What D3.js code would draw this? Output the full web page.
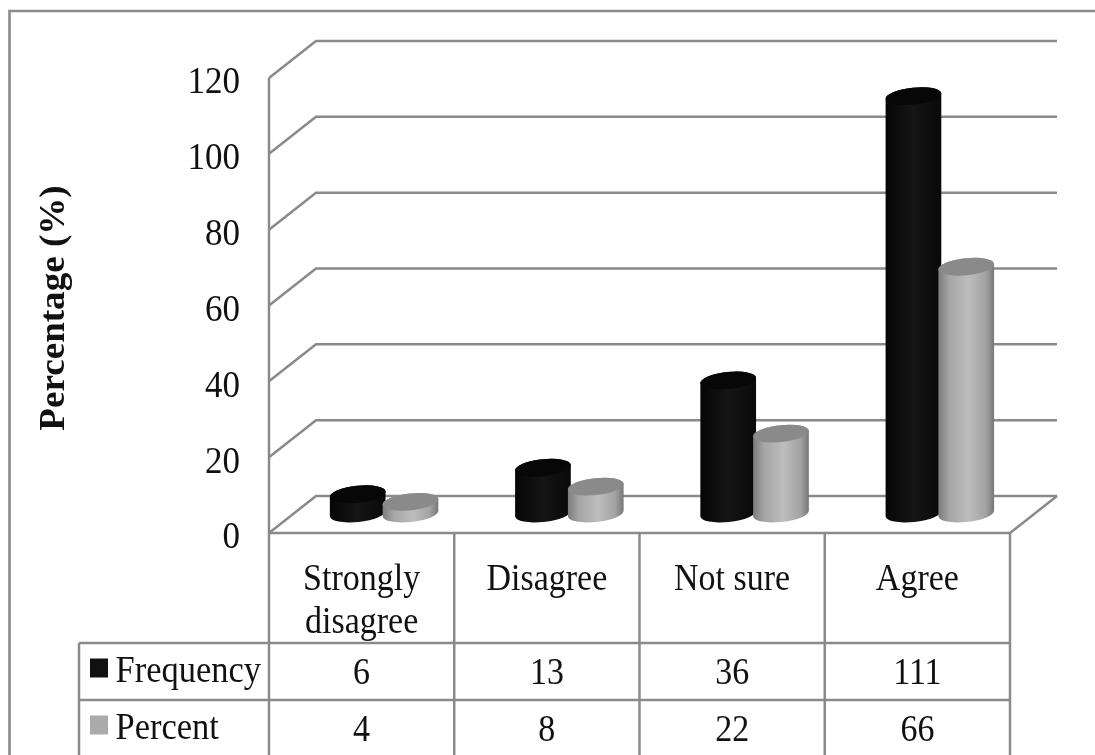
<!DOCTYPE html>
<html>
<head>
<meta charset="utf-8">
<script src="https://cdn.jsdelivr.net/npm/d3@7"></script>
<style>
  html, body { margin: 0; padding: 0; background: #fff; overflow: hidden; }
  svg { display: block; filter: blur(0.6px); }
  text { font-family: "Liberation Serif", serif; fill: #111; }
</style>
</head>
<body>
<div id="chart"></div>
<script>
const categories = [['Strongly', 'disagree'], ['Disagree'], ['Not sure'], ['Agree']];
const frequency = [6, 13, 36, 111];
const percent = [4, 8, 22, 66];
const seriesNames = ['Frequency', 'Percent'];
const yTicks = [0, 20, 40, 60, 80, 100, 120];

const width = 1095;
const height = 755;
const lineColor = '#8a8a8a';

// wall/floor offset of the 3d box
const depthX = 47;
const depthY = -37;

// the picture's text is a bit taller than the font
const textStretch = 1.1;

const svg = d3.select('#chart')
  .append('svg')
  .attr('width', width)
  .attr('height', height);

const x = d3.scaleBand()
  .domain(d3.range(categories.length))
  .range([269, 1010]);

const y = d3.scaleLinear()
  .domain([0, 120])
  .range([533, 78]);

// bars stand in the middle of the floor
const yBar = d3.scaleLinear()
  .domain([0, 120])
  .range([517, 62]);

const xSeries = d3.scaleBand()
  .domain(d3.range(2))
  .range([0, 105.6]);

const defs = svg.append('defs');

function addGradient(id, stops) {
  const g = defs.append('linearGradient').attr('id', id);
  stops.forEach(s => g.append('stop').attr('offset', s[0]).attr('stop-color', s[1]));
}
addGradient('darkBody', [[0, '#060606'], [0.5, '#151515'], [1, '#090909']]);
addGradient('greyBody', [[0, '#7c7c7c'], [0.2, '#a6a6a6'], [0.55, '#bdbdbd'], [0.85, '#a2a2a2'], [1, '#777']]);

// outer frame, runs off the picture on the right and at the bottom
svg.append('path')
  .attr('d', d3.line()([[9.5, height + 5], [9.5, 11], [width + 5, 11]]))
  .attr('fill', 'none')
  .attr('stroke', lineColor)
  .attr('stroke-width', 2.6);

// walls and floor
const wall = svg.append('g')
  .attr('fill', 'none')
  .attr('stroke', lineColor)
  .attr('stroke-width', 2.5);

wall.selectAll('path.grid')
  .data(yTicks)
  .join('path')
  .attr('class', 'grid')
  .attr('d', d => d3.line()([
    [x.range()[0], y(d)],
    [x.range()[0] + depthX, y(d) + depthY],
    [x.range()[1] + depthX, y(d) + depthY]
  ]));

wall.append('path')
  .attr('d', d3.line()([
    [x.range()[0], y(120)],
    [x.range()[0], y(0)],
    [x.range()[1], y(0)],
    [x.range()[1] + depthX, y(0) + depthY]
  ]));

// y axis labels
const yAxis = svg.append('g')
  .attr('transform', 'translate(240,0)')
  .call(d3.axisLeft(y).tickValues(yTicks).tickSize(0).tickPadding(0));
yAxis.select('.domain').remove();
yAxis.selectAll('text')
  .attr('dy', '0.4em')
  .attr('transform', 'scale(1,1.06)')
  .style('font-size', '35px')
  .style('font-family', '"Liberation Serif", serif')
  .attr('fill', '#111');

svg.append('text')
  .attr('transform', 'translate(64,308) rotate(-90) scale(1.03,1)')
  .attr('text-anchor', 'middle')
  .style('font-size', '36px')
  .style('font-weight', 'bold')
  .text('Percentage (%)');

// cylinders
const rx = 28;
const ry = 8.5;
const tilt = -6;
const dx = rx * Math.cos(tilt * Math.PI / 180);
const dy = rx * Math.sin(tilt * Math.PI / 180);
const baseOffset = 3.5;

function cylinderBody(cx, topY, baseY) {
  return `M${cx - dx},${topY - dy}` +
    `L${cx - dx},${baseY - dy}` +
    `A${rx},${ry} ${tilt} 0 0 ${cx + dx},${baseY + dy}` +
    `L${cx + dx},${topY + dy}` +
    `A${rx},${ry} ${tilt} 0 0 ${cx - dx},${topY - dy}Z`;
}

const seriesStyle = [
  { values: frequency, body: 'url(#darkBody)', top: '#070707' },
  { values: percent, body: 'url(#greyBody)', top: '#8a8a8a' }
];

const groups = svg.selectAll('g.cat')
  .data(categories)
  .join('g')
  .attr('class', 'cat')
  .attr('transform', (d, i) => `translate(${x(i) + 62.3},0)`);

seriesStyle.forEach((s, si) => {
  const cx = xSeries(si) + xSeries.bandwidth() / 2;
  groups.append('path')
    .attr('d', (d, i) => cylinderBody(cx, yBar(s.values[i]), yBar(0) - baseOffset))
    .attr('fill', s.body);
  groups.append('ellipse')
    .attr('rx', rx)
    .attr('ry', ry)
    .attr('transform', (d, i) => `translate(${cx},${yBar(s.values[i])}) rotate(${tilt})`)
    .attr('fill', s.top);
});

// data table
const rows = [643, 700, 757];
const tableLeft = 79;
const table = svg.append('g')
  .attr('fill', 'none')
  .attr('stroke', lineColor)
  .attr('stroke-width', 2.5);

table.selectAll('line.row')
  .data(rows)
  .join('line')
  .attr('class', 'row')
  .attr('x1', tableLeft)
  .attr('x2', x.range()[1])
  .attr('y1', d => d)
  .attr('y2', d => d);

table.selectAll('line.col')
  .data(d3.range(categories.length).map(i => x(i)).concat(x.range()[1]))
  .join('line')
  .attr('class', 'col')
  .attr('x1', d => d)
  .attr('x2', d => d)
  .attr('y1', y(0))
  .attr('y2', height + 5);

table.append('line')
  .attr('x1', tableLeft)
  .attr('x2', tableLeft)
  .attr('y1', rows[0])
  .attr('y2', height + 5);

function placeText(px, py) {
  return `translate(${px},${py}) scale(1,${textStretch})`;
}

// category labels
const catLines = categories.flatMap((lines, i) => lines.map((t, j) => ({ t, i, j })));
svg.selectAll('text.catLabel')
  .data(catLines)
  .join('text')
  .attr('class', 'catLabel')
  .attr('text-anchor', 'middle')
  .attr('transform', d => placeText(x(d.i) + x.bandwidth() / 2, 590 + d.j * 43))
  .style('font-size', '34px')
  .text(d => d.t);

// table values
[frequency, percent].forEach((vals, r) => {
  svg.selectAll(`text.val${r}`)
    .data(vals)
    .join('text')
    .attr('class', `val${r}`)
    .attr('text-anchor', 'middle')
    .attr('transform', (d, i) => placeText(x(i) + x.bandwidth() / 2, rows[r] + 40.5))
    .style('font-size', '34px')
    .text(d => d);
});

// legend keys in the table
const keyColors = ['#111', '#ababab'];
svg.selectAll('rect.key')
  .data(seriesNames)
  .join('rect')
  .attr('class', 'key')
  .attr('x', 90)
  .attr('y', (d, i) => rows[i] + 15.5)
  .attr('width', 18)
  .attr('height', 19)
  .attr('fill', (d, i) => keyColors[i]);

svg.selectAll('text.key')
  .data(seriesNames)
  .join('text')
  .attr('class', 'key')
  .attr('transform', (d, i) => placeText(115.5, rows[i] + 38.5))
  .style('font-size', '34.5px')
  .text(d => d);
</script>
</body>
</html>
